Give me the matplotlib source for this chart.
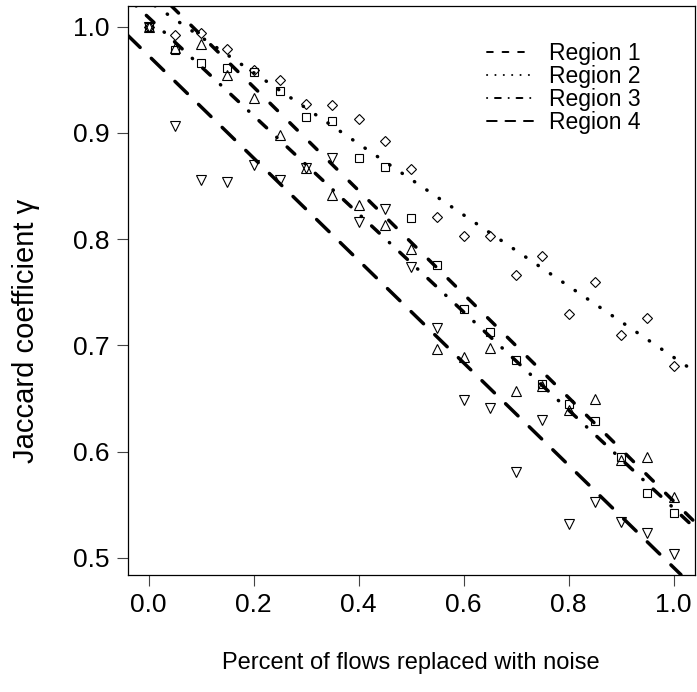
import numpy as np
import matplotlib.pyplot as plt

plt.rcParams["font.family"] = ["Liberation Sans", "DejaVu Sans"]

# share of flows replaced with noise
noise = [0.0, 0.05, 0.10, 0.15, 0.20, 0.25, 0.30, 0.35, 0.40, 0.45, 0.50,
         0.55, 0.60, 0.65, 0.70, 0.75, 0.80, 0.85, 0.90, 0.95, 1.0]

# Jaccard coefficient per region
region1 = [1.0, 0.978, 0.966, 0.961, 0.957, 0.940, 0.915, 0.911, 0.876, 0.868, 0.820,
           0.776, 0.734, 0.713, 0.686, 0.664, 0.645, 0.629, 0.595, 0.561, 0.542]
region2 = [1.0, 0.992, 0.994, 0.979, 0.959, 0.950, 0.927, 0.926, 0.913, 0.892, 0.866,
           0.821, 0.803, 0.803, 0.766, 0.784, 0.730, 0.760, 0.710, 0.726, 0.681]
region3 = [1.0, 0.980, 0.984, 0.955, 0.933, 0.898, 0.867, 0.842, 0.832, 0.813, 0.791,
           0.697, 0.689, 0.698, 0.657, 0.662, 0.639, 0.650, 0.592, 0.595, 0.557]
region4 = [1.0, 0.907, 0.856, 0.854, 0.870, 0.856, 0.867, 0.876, 0.816, 0.828, 0.774,
           0.716, 0.649, 0.641, 0.581, 0.630, 0.532, 0.553, 0.534, 0.523, 0.504]

labels = ["Region 1", "Region 2", "Region 3", "Region 4"]
markers = ["s", "D", "^", "v"]
msizes = [5.8, 5.4, 7.6, 7.6]
# dash patterns in units of line width (round caps)
dashes = [(0, (3, 5)), (0, (0.1, 4.2)), (0, (0.1, 4, 3, 4)), (0, (5, 4.5))]

fig = plt.figure(figsize=(6.97, 6.92), dpi=100)
ax = fig.add_axes([127.7 / 697, 1 - 574.7 / 692, 567 / 697, 569 / 692])

x = np.array(noise)
handles = []
for y, lab, m, ms, ls in zip([region1, region2, region3, region4],
                              labels, markers, msizes, dashes):
    y = np.array(y)
    ax.plot(x, y, linestyle="none", marker=m, markersize=ms,
            markerfacecolor="none", markeredgecolor="black",
            markeredgewidth=0.8, zorder=3)
    slope, icpt = np.polyfit(x, y, 1)
    ax.axline((0, icpt), slope=slope, color="black", lw=2.5,
              linestyle=ls, dash_capstyle="round", zorder=2)
    h, = ax.plot([], [], color="black", lw=1.4, linestyle=ls,
                 dash_capstyle="round", label=lab)
    handles.append(h)

ax.set_xlim(-0.04, 1.04)
ax.set_ylim(0.48416, 1.01984)
ax.set_xticks([0.0, 0.2, 0.4, 0.6, 0.8, 1.0])
ax.set_yticks([0.5, 0.6, 0.7, 0.8, 0.9, 1.0])
ax.set_xticklabels(["0.0", "0.2", "0.4", "0.6", "0.8", "1.0"])
ax.set_yticklabels(["0.5", "0.6", "0.7", "0.8", "0.9", "1.0"])
ax.tick_params(direction="out", length=8, width=0.8, color="#444444",
               labelsize=19, pad=5)
for s in ax.spines.values():
    s.set_linewidth(0.9)

ax.set_xlabel("Percent of flows replaced with noise", fontsize=17)
ax.xaxis.label.set_va("center")
ax.xaxis.set_label_coords(0.5, -0.155)
ax.set_ylabel("Jaccard coefficient \u03b3", fontsize=21)
ax.yaxis.label.set_va("center")
ax.yaxis.set_label_coords(-0.179, 0.428)

ax.legend(handles=handles, loc="upper left", bbox_to_anchor=(0.618, 0.952),
          frameon=False, fontsize=16.5, handlelength=2.0, handletextpad=0.7,
          labelspacing=0.0, borderaxespad=0)

fig.savefig("out.png", dpi=100)
